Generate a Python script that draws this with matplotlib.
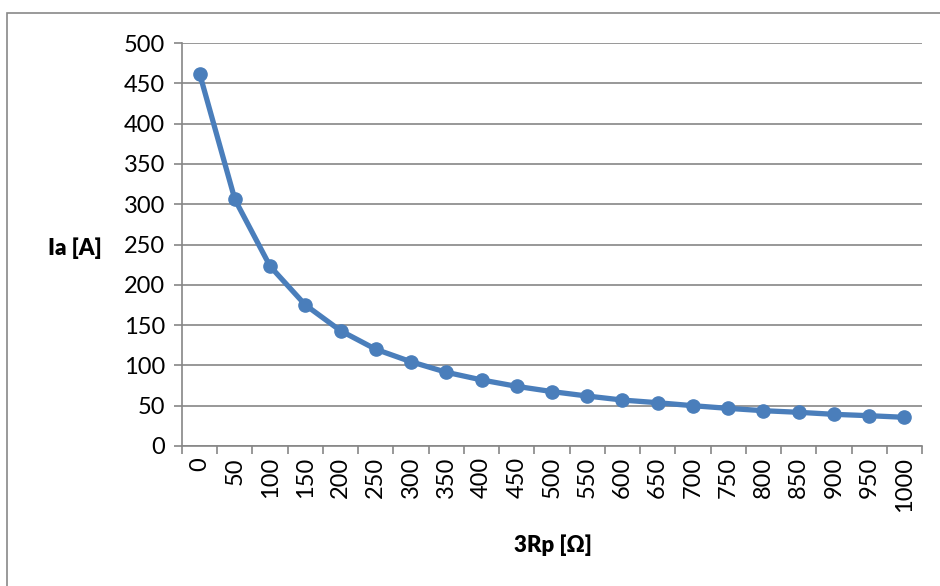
import matplotlib
matplotlib.use("Agg")
import matplotlib.pyplot as plt
from matplotlib.patches import Rectangle
import numpy as np

categories = ["0", "50", "100", "150", "200", "250", "300", "350", "400", "450", "500",
              "550", "600", "650", "700", "750", "800", "850", "900", "950", "1000"]
current = [462, 306, 223, 175, 143, 120, 104.5, 91.5, 82, 74, 67.5,
           62, 57, 53.7, 50, 46.7, 43.8, 41.8, 39.3, 37.6, 35.6]
y_ticks = [0, 50, 100, 150, 200, 250, 300, 350, 400, 450, 500]

plt.rcParams['font.family'] = ['Lato', 'DejaVu Sans']

fig = plt.figure(figsize=(9.4, 5.86), dpi=100)
ax = fig.add_axes([182/940, 1-446/586, (922-182)/940, (446-43)/586])

grid_c = "#868686"
x = np.arange(len(categories))
ax.plot(x, current, color="#4A7EBB", lw=3.8, marker="o", ms=9.5, zorder=3)

ax.set_xlim(-0.5, len(categories) - 0.5)
ax.set_ylim(0, 500)
ax.set_yticks(y_ticks)
ax.set_yticklabels([str(v) for v in y_ticks], fontsize=17)
ax.yaxis.grid(True, color=grid_c, lw=1.2)
ax.set_axisbelow(True)

ax.set_xticks(x)
ax.set_xticklabels(categories, rotation=90, fontsize=17)
ax.tick_params(axis='x', which='major', length=0, pad=8)
ax.set_xticks(np.arange(len(categories) + 1) - 0.5, minor=True)
ax.tick_params(axis='x', which='minor', length=6, color=grid_c, width=1.2)
ax.tick_params(axis='y', length=6, color=grid_c, width=1.2, pad=6)

for s in ["top", "right"]:
    ax.spines[s].set_visible(False)
for s in ["left", "bottom"]:
    ax.spines[s].set_color(grid_c)
    ax.spines[s].set_linewidth(1.2)

fig.text(75/940, 1-248/586, "Ia [A]", fontsize=16, fontweight="heavy",
         ha="center", va="center")
fig.text(553/940, 1-545/586, "3Rp [Ω]", fontsize=16, fontweight="heavy",
         ha="center", va="center")

fig.patches.append(Rectangle((7/940, -0.1), 1.2, 1 - 13/586 + 0.1,
                             transform=fig.transFigure, fill=False,
                             edgecolor="#898989", lw=1.2))

fig.savefig("out.png", dpi=100)
